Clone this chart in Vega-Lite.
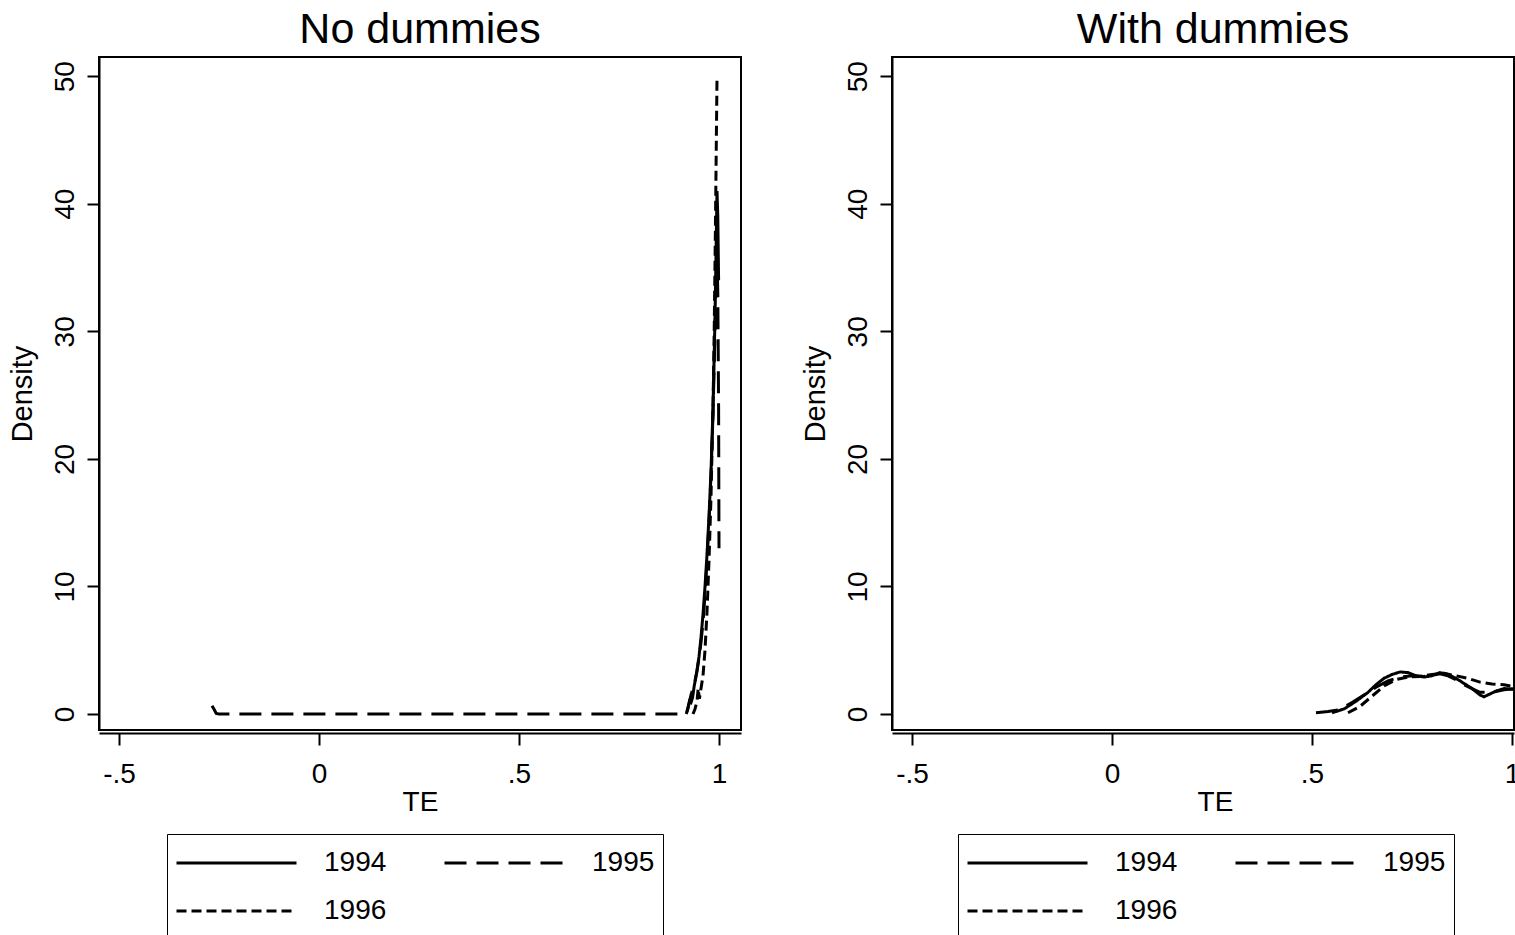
{
  "$schema": "https://vega.github.io/schema/vega-lite/v6.json",
  "background": "white",
  "padding": {"left": 7, "top": 8, "right": 0, "bottom": 0},
  "spacing": 58,
  "config": {
    "font": "Liberation Sans",
    "view": {"stroke": "black", "strokeWidth": 2},
    "axis": {"domainColor": "black", "domainWidth": 2, "tickColor": "black", "tickWidth": 2, "tickSize": 12, "labelColor": "black", "titleColor": "black", "labelFont": "Liberation Sans", "titleFont": "Liberation Sans", "labelFontSize": 28, "titleFontWeight": "normal", "grid": false},
    "title": {"font": "Liberation Sans", "fontSize": 43, "fontWeight": "normal", "color": "black", "anchor": "middle", "baseline": "alphabetic", "offset": 5},
    "legend": {"labelFont": "Liberation Sans"}
  },
  "datasets": {
    "nodum": [
      {"year": "1995", "x": -0.2675, "y": 0.65}, {"year": "1995", "x": -0.262, "y": 0.35}, {"year": "1995", "x": -0.257, "y": 0.05}, {"year": "1995", "x": -0.25, "y": 0},
      {"year": "1995", "x": 0.0, "y": 0}, {"year": "1995", "x": 0.5, "y": 0}, {"year": "1995", "x": 0.915, "y": 0}, {"year": "1995", "x": 0.92, "y": 0.2},
      {"year": "1995", "x": 0.925, "y": 0.8}, {"year": "1995", "x": 0.93, "y": 1.5}, {"year": "1995", "x": 0.935, "y": 2.0}, {"year": "1995", "x": 0.94, "y": 2.6},
      {"year": "1995", "x": 0.945, "y": 3.4}, {"year": "1995", "x": 0.95, "y": 4.4}, {"year": "1995", "x": 0.955, "y": 5.6}, {"year": "1995", "x": 0.96, "y": 7.2},
      {"year": "1995", "x": 0.965, "y": 9.4}, {"year": "1995", "x": 0.97, "y": 12.0}, {"year": "1995", "x": 0.975, "y": 15.0}, {"year": "1995", "x": 0.98, "y": 18.8},
      {"year": "1995", "x": 0.985, "y": 23.5}, {"year": "1995", "x": 0.99, "y": 30}, {"year": "1995", "x": 0.993, "y": 34}, {"year": "1995", "x": 0.995, "y": 36},
      {"year": "1995", "x": 0.997, "y": 33}, {"year": "1995", "x": 0.999, "y": 24}, {"year": "1995", "x": 1.0, "y": 13},
      {"year": "1994", "x": 0.918, "y": 0}, {"year": "1994", "x": 0.922, "y": 0.4}, {"year": "1994", "x": 0.926, "y": 1.0}, {"year": "1994", "x": 0.93, "y": 0.9},
      {"year": "1994", "x": 0.934, "y": 1.3}, {"year": "1994", "x": 0.938, "y": 2.2}, {"year": "1994", "x": 0.944, "y": 3.2}, {"year": "1994", "x": 0.95, "y": 4.5},
      {"year": "1994", "x": 0.955, "y": 6.0}, {"year": "1994", "x": 0.96, "y": 7.8}, {"year": "1994", "x": 0.965, "y": 10.0}, {"year": "1994", "x": 0.97, "y": 12.5},
      {"year": "1994", "x": 0.975, "y": 15.5}, {"year": "1994", "x": 0.98, "y": 19}, {"year": "1994", "x": 0.985, "y": 24}, {"year": "1994", "x": 0.99, "y": 31},
      {"year": "1994", "x": 0.993, "y": 37}, {"year": "1994", "x": 0.995, "y": 41}, {"year": "1994", "x": 0.997, "y": 39}, {"year": "1994", "x": 0.999, "y": 34},
      {"year": "1996", "x": 0.935, "y": 0}, {"year": "1996", "x": 0.94, "y": 0.4}, {"year": "1996", "x": 0.945, "y": 1.0}, {"year": "1996", "x": 0.948, "y": 2.0},
      {"year": "1996", "x": 0.951, "y": 1.2}, {"year": "1996", "x": 0.955, "y": 2.0}, {"year": "1996", "x": 0.96, "y": 3.0}, {"year": "1996", "x": 0.965, "y": 5},
      {"year": "1996", "x": 0.97, "y": 8}, {"year": "1996", "x": 0.975, "y": 12}, {"year": "1996", "x": 0.98, "y": 17}, {"year": "1996", "x": 0.985, "y": 24},
      {"year": "1996", "x": 0.988, "y": 30}, {"year": "1996", "x": 0.991, "y": 38}, {"year": "1996", "x": 0.993, "y": 44}, {"year": "1996", "x": 0.995, "y": 49.8}
    ],
    "withdum": [
      {"year": "1994", "x": 0.55, "y": 0.1}, {"year": "1994", "x": 0.58, "y": 0.4}, {"year": "1994", "x": 0.61, "y": 1.0}, {"year": "1994", "x": 0.64, "y": 1.7},
      {"year": "1994", "x": 0.66, "y": 2.3}, {"year": "1994", "x": 0.68, "y": 2.8}, {"year": "1994", "x": 0.7, "y": 3.1}, {"year": "1994", "x": 0.72, "y": 3.3},
      {"year": "1994", "x": 0.74, "y": 3.25}, {"year": "1994", "x": 0.76, "y": 3.0}, {"year": "1994", "x": 0.78, "y": 2.9}, {"year": "1994", "x": 0.8, "y": 3.0},
      {"year": "1994", "x": 0.82, "y": 3.25}, {"year": "1994", "x": 0.84, "y": 3.1}, {"year": "1994", "x": 0.86, "y": 2.8}, {"year": "1994", "x": 0.88, "y": 2.4},
      {"year": "1994", "x": 0.9, "y": 2.0}, {"year": "1994", "x": 0.92, "y": 1.5}, {"year": "1994", "x": 0.93, "y": 1.35}, {"year": "1994", "x": 0.94, "y": 1.5},
      {"year": "1994", "x": 0.96, "y": 1.8}, {"year": "1994", "x": 0.98, "y": 2.0}, {"year": "1994", "x": 1.0, "y": 1.95}, {"year": "1994", "x": 1.01, "y": 1.9},
      {"year": "1995", "x": 0.51, "y": 0.1}, {"year": "1995", "x": 0.54, "y": 0.2}, {"year": "1995", "x": 0.57, "y": 0.35}, {"year": "1995", "x": 0.6, "y": 0.9},
      {"year": "1995", "x": 0.63, "y": 1.5}, {"year": "1995", "x": 0.66, "y": 2.1}, {"year": "1995", "x": 0.69, "y": 2.6}, {"year": "1995", "x": 0.72, "y": 2.9},
      {"year": "1995", "x": 0.75, "y": 3.0}, {"year": "1995", "x": 0.78, "y": 2.95}, {"year": "1995", "x": 0.8, "y": 3.05}, {"year": "1995", "x": 0.82, "y": 3.15},
      {"year": "1995", "x": 0.84, "y": 3.0}, {"year": "1995", "x": 0.86, "y": 2.7}, {"year": "1995", "x": 0.88, "y": 2.3}, {"year": "1995", "x": 0.9, "y": 2.0},
      {"year": "1995", "x": 0.92, "y": 1.7}, {"year": "1995", "x": 0.95, "y": 1.7}, {"year": "1995", "x": 0.98, "y": 1.9}, {"year": "1995", "x": 1.01, "y": 2.0},
      {"year": "1996", "x": 0.59, "y": 0.1}, {"year": "1996", "x": 0.62, "y": 0.6}, {"year": "1996", "x": 0.65, "y": 1.4}, {"year": "1996", "x": 0.68, "y": 2.2},
      {"year": "1996", "x": 0.71, "y": 2.7}, {"year": "1996", "x": 0.74, "y": 2.9}, {"year": "1996", "x": 0.77, "y": 2.95}, {"year": "1996", "x": 0.8, "y": 3.1},
      {"year": "1996", "x": 0.83, "y": 3.2}, {"year": "1996", "x": 0.86, "y": 3.0}, {"year": "1996", "x": 0.89, "y": 2.8}, {"year": "1996", "x": 0.92, "y": 2.5},
      {"year": "1996", "x": 0.95, "y": 2.35}, {"year": "1996", "x": 0.98, "y": 2.3}, {"year": "1996", "x": 1.01, "y": 2.1}
    ]
  },
  "resolve": {"legend": {"strokeDash": "independent"}, "scale": {"x": "independent", "y": "independent"}},
  "hconcat": [
    {
      "title": {"text": "No dummies"},
      "width": 642,
      "height": 673,
      "data": {"name": "nodum"},
      "mark": {"type": "line", "stroke": "black", "strokeWidth": 3, "clip": true},
      "encoding": {
        "x": {"field": "x", "type": "quantitative", "scale": {"domain": [-0.55, 1.055], "nice": false, "zero": false},
          "axis": {"title": "TE", "titleFontSize": 28, "values": [-0.5, 0, 0.5, 1], "labelExpr": "datum.value == -0.5 ? '-.5' : datum.value == 0.5 ? '.5' : datum.value == 0 ? '0' : '1'", "offset": 3, "labelPadding": 15, "titlePadding": 0, "labelFlush": false}},
        "y": {"field": "y", "type": "quantitative", "scale": {"domain": [-1.25, 51.5], "nice": false, "zero": false},
          "axis": {"title": "Density", "titleFontSize": 29, "values": [0, 10, 20, 30, 40, 50], "labelAngle": -90, "labelAlign": "center", "labelBaseline": "alphabetic", "labelPadding": 14, "titlePadding": 14, "labelFlush": false}},
        "strokeDash": {"field": "year", "type": "nominal", "scale": {"domain": ["1994", "1995", "1996"], "range": [[1, 0], [22, 10], [10, 5]]},
          "legend": {"values": ["1994", "1996", "1995"], "orient": "none", "legendX": 68, "legendY": 777, "columns": 2, "title": null, "symbolType": "stroke", "symbolSize": 14400, "symbolStrokeWidth": 3, "symbolStrokeColor": "black", "labelFontSize": 28, "labelColor": "black", "labelOffset": 26, "columnPadding": 56, "rowPadding": 6, "clipHeight": 42, "padding": 8, "strokeColor": "black", "fillColor": "white"}},
        "order": {"field": "x", "type": "quantitative"}
      }
    },
    {
      "title": {"text": "With dummies", "dx": 10},
      "width": 622,
      "height": 673,
      "data": {"name": "withdum"},
      "mark": {"type": "line", "stroke": "black", "strokeWidth": 3, "clip": true},
      "encoding": {
        "x": {"field": "x", "type": "quantitative", "scale": {"domain": [-0.55, 1.005], "nice": false, "zero": false},
          "axis": {"title": "TE", "titleFontSize": 28, "values": [-0.5, 0, 0.5, 1], "labelExpr": "datum.value == -0.5 ? '-.5' : datum.value == 0.5 ? '.5' : datum.value == 0 ? '0' : '1'", "offset": 3, "labelPadding": 15, "titlePadding": 0, "labelFlush": false, "titleX": 323}},
        "y": {"field": "y", "type": "quantitative", "scale": {"domain": [-1.25, 51.5], "nice": false, "zero": false},
          "axis": {"title": "Density", "titleFontSize": 29, "values": [0, 10, 20, 30, 40, 50], "labelAngle": -90, "labelAlign": "center", "labelBaseline": "alphabetic", "labelPadding": 14, "titlePadding": 14, "labelFlush": false}},
        "strokeDash": {"field": "year", "type": "nominal", "scale": {"domain": ["1994", "1995", "1996"], "range": [[1, 0], [22, 10], [10, 5]]},
          "legend": {"values": ["1994", "1996", "1995"], "orient": "none", "legendX": 66, "legendY": 777, "columns": 2, "title": null, "symbolType": "stroke", "symbolSize": 14400, "symbolStrokeWidth": 3, "symbolStrokeColor": "black", "labelFontSize": 28, "labelColor": "black", "labelOffset": 26, "columnPadding": 56, "rowPadding": 6, "clipHeight": 42, "padding": 8, "strokeColor": "black", "fillColor": "white"}},
        "order": {"field": "x", "type": "quantitative"}
      }
    }
  ]
}
